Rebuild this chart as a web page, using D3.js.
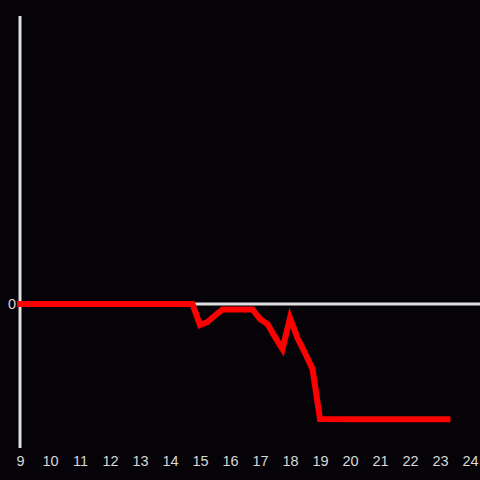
<!DOCTYPE html>
<html lang="en">
<head>
<meta charset="UTF-8">
<title>line</title>
<script src="https://cdn.jsdelivr.net/npm/d3@7"></script>
<style>
  html, body { margin:0; padding:0; background:#050307; }
  svg { display:block; background:#050307; }
  text { font-family: "Liberation Sans", Arial, sans-serif; }
</style>
</head>
<body>
<svg width="480" height="480"></svg>
<script>
// data: hour of day -> value
var hours  = [9, 14.75, 15, 15.25, 15.5, 15.75, 16, 16.25, 16.5, 16.75, 17, 17.25, 17.5, 17.75, 18, 18.25, 18.5, 18.75, 19, 20, 21, 22, 23, 23.25];
var values = [0, 0, -0.146, -0.125, -0.08, -0.038, -0.038, -0.038, -0.038, -0.038, -0.104, -0.139, -0.229, -0.3125, -0.097, -0.236, -0.34, -0.451, -0.799, -0.8, -0.8, -0.8, -0.8, -0.8];
var xTicks = d3.range(9, 25);
var yTicks = [0];

var svg = d3.select("svg");
var x = d3.scaleLinear().domain([9, 24]).range([20, 470]);
var y = d3.scaleLinear().domain([-1, 2]).range([448, 16]);

// x labels
svg.append("g")
  .attr("transform", "translate(0,461)")
  .call(d3.axisBottom(x).tickValues(xTicks).tickSize(0).tickPadding(0).tickFormat(d3.format("d")))
  .call(function(g) {
    g.select(".domain").remove();
    g.selectAll("text").attr("fill", "#d8d8d8").attr("font-size", 14.5).attr("dy", "0.35em");
  });

// y labels
svg.append("g")
  .attr("transform", "translate(20,0)")
  .call(d3.axisLeft(y).tickValues(yTicks).tickSize(0).tickPadding(4).tickFormat(d3.format("d")))
  .call(function(g) {
    g.select(".domain").remove();
    g.selectAll("text").attr("fill", "#d8d8d8").attr("font-size", 14.5);
  });

// zero line
svg.append("line")
  .attr("x1", 20).attr("x2", 480)
  .attr("y1", y(0)).attr("y2", y(0))
  .attr("stroke", "#e0e0e0").attr("stroke-width", 3);

// y axis line
svg.append("line")
  .attr("x1", 20).attr("x2", 20)
  .attr("y1", 16).attr("y2", 448)
  .attr("stroke", "#e0e0e0").attr("stroke-width", 3);

var line = d3.line()
  .x(function(d, i) { return x(hours[i]); })
  .y(function(d) { return y(d); });

svg.append("path")
  .datum(values)
  .attr("d", line)
  .attr("fill", "none")
  .attr("stroke", "#ff0000")
  .attr("stroke-width", 6)
  .attr("stroke-linecap", "square");
</script>
</body>
</html>
